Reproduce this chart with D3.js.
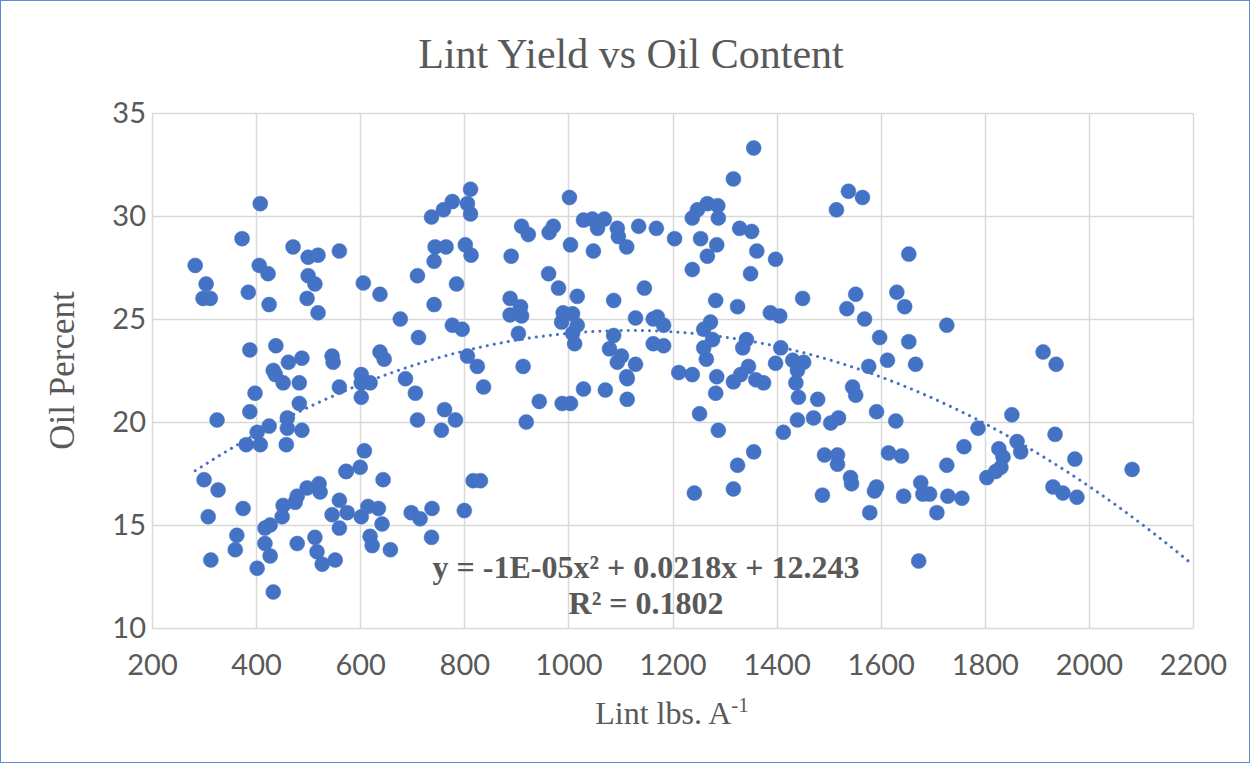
<!DOCTYPE html>
<html>
<head>
<meta charset="utf-8">
<script src="https://cdn.jsdelivr.net/npm/d3@7"></script>
<style>
  html, body { margin: 0; padding: 0; background: #fff; }
  svg { display: block; }
</style>
</head>
<body>
<svg id="chart" width="1253" height="763"></svg>
<script>
// ── data ──
const lint = [
  283, 304, 298, 312, 373, 408, 385, 406, 423, 425, 471, 500, 519, 560, 500, 513, 498, 519,
  388, 438, 462, 488, 433, 437, 546, 548, 452, 483, 560, 398, 388, 325, 483, 402, 425, 381,
  408, 460, 460, 488, 458, 300, 327, 308, 375, 573, 498, 521, 523, 479, 475, 452, 450, 427,
  417, 560, 546, 560, 363, 360, 417, 427, 313, 402, 479, 513, 517, 527, 552, 433,
  812, 806, 812, 777, 760, 737, 744, 765, 742, 802, 813, 606, 638, 710, 785, 742, 677, 712,
  777, 796, 638, 646, 806, 825, 602, 602, 619, 602, 687, 706, 710, 762, 783, 756, 837, 608,
  600, 573, 644, 575, 602, 615, 635, 642, 619, 623, 658, 698, 715, 738, 737, 800, 817, 831,
  1002, 910, 923, 963, 971, 1029, 1046, 1069, 1056, 1094, 1096, 1112, 1135, 1169, 1004, 1048,
  890, 962, 981, 1017, 1087, 1146, 888, 908, 888, 910, 990, 1008, 987, 1017, 1008, 1012, 904,
  1129, 1163, 1171, 1183, 1087, 1079, 1102, 1094, 1129, 1112, 1163, 1183, 913, 944, 988, 1004,
  919, 1029, 1071, 1113, 1113,
  1356, 1317, 1267, 1287, 1248, 1238, 1288, 1329, 1352, 1204, 1254, 1285, 1267, 1362, 1398,
  1238, 1350, 1283, 1325, 1450, 1388, 1406, 1273, 1260, 1277, 1260, 1265, 1342, 1335, 1408,
  1398, 1431, 1452, 1440, 1212, 1238, 1346, 1285, 1283, 1317, 1331, 1360, 1375, 1437, 1442,
  1479, 1471, 1440, 1413, 1252, 1288, 1356, 1325, 1317, 1242, 1492, 1488,
  1538, 1565, 1515, 1654, 1552, 1535, 1631, 1646, 1569, 1598, 1654, 1727, 1577, 1613, 1667,
  1546, 1552, 1592, 1629, 1504, 1519, 1517, 1517, 1542, 1544, 1592, 1588, 1579, 1615, 1640,
  1644, 1677, 1681, 1694, 1708, 1727, 1729, 1756, 1760, 1787, 1673,
  1912, 1937, 1852, 1862, 1869, 1827, 1835, 1831, 1821, 1804, 1935, 1973, 1931, 1950, 1977, 2083
];
const oil = [
  27.6, 26.7, 26.0, 26.0, 28.9, 30.6, 26.3, 27.6, 27.2, 25.7, 28.5, 28.0, 28.1, 28.3, 27.1, 26.7, 26.0, 25.3,
  23.5, 23.7, 22.9, 23.1, 22.5, 22.3, 23.2, 22.9, 21.9, 21.9, 21.7, 21.4, 20.5, 20.1, 20.9, 19.5, 19.8, 18.9,
  18.9, 20.2, 19.7, 19.6, 18.9, 17.2, 16.7, 15.4, 15.8, 17.6, 16.8, 17.0, 16.6, 16.4, 16.1, 15.95, 15.4, 15.0,
  14.85, 16.2, 15.5, 14.85, 14.5, 13.8, 14.1, 13.5, 13.3, 12.9, 14.1, 14.4, 13.7, 13.1, 13.3, 11.75,
  31.3, 30.6, 30.1, 30.7, 30.3, 29.95, 28.5, 28.5, 27.8, 28.6, 28.1, 26.75, 26.2, 27.1, 26.7, 25.7, 25.0, 24.1,
  24.7, 24.5, 23.4, 23.05, 23.2, 22.7, 22.3, 21.9, 21.9, 21.2, 22.1, 21.4, 20.1, 20.6, 20.1, 19.6, 21.7, 18.6,
  17.8, 17.6, 17.2, 15.6, 15.4, 15.9, 15.8, 15.05, 14.45, 14.0, 13.8, 15.6, 15.3, 15.8, 14.4, 15.7, 17.15, 17.15,
  30.9, 29.5, 29.1, 29.2, 29.5, 29.8, 29.85, 29.85, 29.4, 29.4, 29.0, 28.5, 29.5, 29.4, 28.6, 28.3,
  28.05, 27.2, 26.5, 26.1, 25.9, 26.5, 26.0, 25.6, 25.2, 25.15, 25.3, 25.25, 24.85, 24.7, 24.3, 23.8, 24.3,
  25.05, 25.0, 25.1, 24.7, 24.2, 23.55, 23.2, 22.9, 22.8, 22.2, 23.8, 23.7, 22.7, 21.0, 20.9, 20.9,
  20.0, 21.6, 21.55, 22.1, 21.1,
  33.3, 31.8, 30.6, 30.5, 30.3, 29.9, 29.9, 29.4, 29.25, 28.9, 28.9, 28.6, 28.05, 28.3, 27.9,
  27.4, 27.2, 25.9, 25.6, 26.0, 25.3, 25.15, 24.85, 24.5, 24.0, 23.6, 23.05, 24.0, 23.6, 23.6,
  22.85, 23.0, 22.9, 22.5, 22.4, 22.3, 22.7, 22.2, 21.4, 21.95, 22.3, 22.05, 21.9, 21.9, 21.2,
  21.1, 20.2, 20.1, 19.5, 20.4, 19.6, 18.55, 17.9, 16.75, 16.55, 18.4, 16.45,
  31.2, 30.9, 30.3, 28.15, 26.2, 25.5, 26.3, 25.6, 25.0, 24.1, 23.9, 24.7, 22.7, 23.0, 22.8,
  21.7, 21.3, 20.5, 20.05, 19.95, 20.2, 18.4, 17.95, 17.3, 17.0, 16.85, 16.65, 15.6, 18.5, 18.35,
  16.4, 17.05, 16.5, 16.5, 15.6, 17.9, 16.4, 16.3, 18.8, 19.7, 13.25,
  23.4, 22.8, 20.35, 19.05, 18.55, 18.7, 18.3, 17.8, 17.6, 17.3, 19.4, 18.2, 16.85, 16.55, 16.35, 17.7
];
const xTicks = [200, 400, 600, 800, 1000, 1200, 1400, 1600, 1800, 2000, 2200];
const yTicks = [10, 15, 20, 25, 30, 35];
// poly(2) trendline, as labelled (quadratic term unrounded)
const trendA = -0.00000974, trendB = 0.0218, trendC = 12.243;
const eqLine1 = 'y = -1E-05x² + 0.0218x + 12.243';
const eqLine2 = 'R² = 0.1802';

const points = lint.map((x, i) => ({ x, y: oil[i] }));

// ── layout ──
const W = 1253, H = 763;
const plot = { left: 152, right: 1193, top: 113, bottom: 628 };
const TXT = '#595959';
const BLUE = '#4472C4';
const GRID = '#D9D9D9';
const SERIF = '"Liberation Serif", "Times New Roman", serif';
const SANS = 'Lato, "Liberation Sans", sans-serif';

const x = d3.scaleLinear().domain([200, 2200]).range([plot.left, plot.right]);
const y = d3.scaleLinear().domain([10, 35]).range([plot.bottom, plot.top]);

const svg = d3.select('#chart');

// chart frame
svg.append('rect')
  .attr('x', 0.5).attr('y', 0.5).attr('width', W - 4).attr('height', H - 1)
  .attr('fill', '#fff').attr('stroke', '#5B8BD0').attr('stroke-width', 1);

// gridlines
const grid = svg.append('g');
grid.selectAll('.vg').data(xTicks).join('line')
  .attr('x1', d => Math.round(x(d)) + 0.5).attr('x2', d => Math.round(x(d)) + 0.5)
  .attr('y1', plot.top).attr('y2', plot.bottom)
  .attr('stroke', GRID).attr('stroke-width', 1.5);
grid.selectAll('.hg').data(yTicks).join('line')
  .attr('x1', plot.left).attr('x2', plot.right)
  .attr('y1', d => Math.round(y(d)) + 0.5).attr('y2', d => Math.round(y(d)) + 0.5)
  .attr('stroke', GRID).attr('stroke-width', 1.5);

// axes (labels only, Excel style)
const xAxis = svg.append('g')
  .attr('transform', `translate(0,${plot.bottom + 22})`)
  .call(d3.axisBottom(x).tickValues(xTicks).tickSize(0).tickFormat(d3.format('d')));
const yAxis = svg.append('g')
  .attr('transform', `translate(${plot.left - 3},0)`)
  .call(d3.axisLeft(y).tickValues(yTicks).tickSize(0).tickFormat(d3.format('d')));
[xAxis, yAxis].forEach(a => {
  a.select('.domain').remove();
  a.selectAll('text')
    .attr('fill', TXT).attr('font-family', SANS).attr('font-size', 29);
});
xAxis.selectAll('text').attr('dy', '0.75em');

// trendline
const trendFn = v => trendA * v * v + trendB * v + trendC;
const xs = d3.range(d3.min(lint), 2200 + 1, 10);
svg.append('path')
  .datum(xs)
  .attr('d', d3.line().x(d => x(d)).y(d => y(trendFn(d))))
  .attr('fill', 'none')
  .attr('stroke', BLUE).attr('stroke-width', 3)
  .attr('stroke-linecap', 'round')
  .attr('stroke-dasharray', '0.1 7');

// markers
svg.append('g').selectAll('circle').data(points).join('circle')
  .attr('cx', d => x(d.x)).attr('cy', d => y(d.y))
  .attr('r', 7.5)
  .attr('fill', BLUE).attr('stroke', BLUE).attr('stroke-width', 0.5);

// equation label
svg.append('text')
  .attr('x', 646).attr('y', 578).attr('text-anchor', 'middle')
  .attr('font-family', SERIF).attr('font-weight', 'bold').attr('font-size', 32)
  .attr('fill', TXT).text(eqLine1);
svg.append('text')
  .attr('x', 646).attr('y', 614).attr('text-anchor', 'middle')
  .attr('font-family', SERIF).attr('font-weight', 'bold').attr('font-size', 32)
  .attr('fill', TXT).text(eqLine2);

// title
svg.append('text')
  .attr('x', 631).attr('y', 68).attr('text-anchor', 'middle')
  .attr('font-family', SERIF).attr('font-size', 42)
  .attr('fill', TXT).text('Lint Yield vs Oil Content');

// axis titles
const xt = svg.append('text')
  .attr('x', 672).attr('y', 724).attr('text-anchor', 'middle')
  .attr('font-family', SERIF).attr('font-size', 32).attr('fill', TXT);
xt.append('tspan').text('Lint lbs. A');
xt.append('tspan').attr('font-size', 21).attr('dy', -12).text('-1');

svg.append('text')
  .attr('transform', `translate(74,${(plot.top + plot.bottom) / 2}) rotate(-90)`)
  .attr('text-anchor', 'middle')
  .attr('font-family', SERIF).attr('font-size', 35).attr('fill', TXT)
  .text('Oil Percent');
</script>
</body>
</html>
